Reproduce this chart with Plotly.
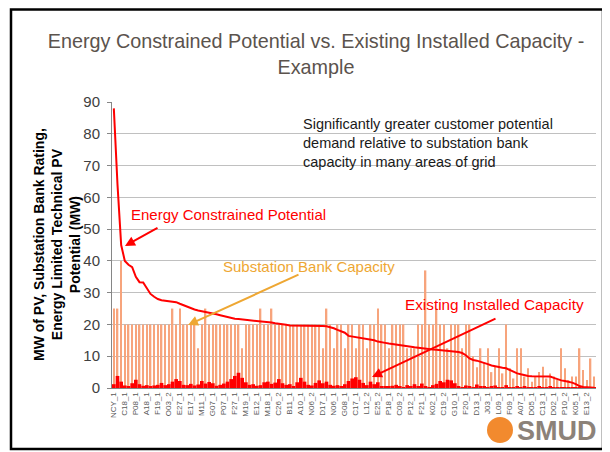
import numpy as np
import plotly.graph_objects as go

# Substations sorted by energy constrained potential (132 categories, every 3rd labelled)
tick_labels = ['NCY_1', 'C18_1', 'P08_1', 'A18_1', 'F19_1', 'O03_2', 'E27_1', 'E17_1',
               'M11_1', 'G07_1', 'P07_1', 'F27_1', 'M19_1', 'E12_1', 'M18_1', 'C26_2',
               'B11_1', 'A10_1', 'N06_2', 'D17_1', 'N06_1', 'G08_1', 'C17_1', 'L12_2',
               'E25_2', 'P18_1', 'C09_2', 'P12_1', 'F21_1', 'K02_1', 'C19_2', 'G10_1',
               'F20_1', 'D13_1', 'J03_1', 'L09_1', 'F09_1', 'A07_1', 'D05_1', 'C13_1',
               'D02_1', 'P10_2', 'K05_1', 'E13_2']

energy_potential = [
    88, 64, 45, 40, 38.8, 38, 35, 33.3, 33.2, 31.2,
    29.6, 28.7, 28, 27.6, 27.4, 27.3, 27.1, 27.0, 26.5, 26,
    25.5, 25.1, 24.7, 24.4, 24.2, 24.0, 23.8, 23.5, 23.2, 22.9,
    22.6, 22.3, 22.0, 21.8, 21.7, 21.6, 21.4, 21.3, 21.2, 21.1,
    21.0, 20.9, 20.8, 20.6, 20.4, 20.3, 20.1, 19.9, 19.7, 19.7,
    19.7, 19.7, 19.7, 19.6, 19.6, 19.6, 19.5, 19.5, 19.4, 19.2,
    18.8, 18.3, 17.9, 17.4, 16.4, 16.2, 16.0, 15.8, 15.7, 15.6,
    15.3, 15.0, 14.6, 14.3, 14.2, 14.0, 13.8, 13.7, 13.5, 13.4,
    13.2, 13.0, 12.8, 12.7, 12.5, 12.4, 12.3, 12.1, 12.0, 11.9,
    11.8, 11.6, 11.5, 11.4, 11.3, 11.0, 10.3, 9.3, 8.8, 8.6,
    8.3, 8.0, 7.5, 7.1, 6.8, 6.5, 6.4, 6.2, 5.6, 5.0,
    4.6, 4.3, 4.0, 3.8, 3.7, 3.7, 3.7, 3.6, 3.6, 3.6,
    3.2, 2.7, 2.4, 2.2, 2.0, 1.7, 1.2, 0.6, 0.3, 0.2,
    0.1, 0.1]

bank_capacity = [
    25, 25, 40, 20, 20, 20, 20, 20, 20, 20,
    20, 20, 20, 20, 20, 20, 25, 20, 25, 20,
    20, 20, 20, 12.5, 20, 25, 20, 20, 20, 20,
    20, 20, 20, 20, 20, 12.5, 20, 20, 20, 20,
    25, 20, 20, 25, 20, 20, 20, 20, 20, 20,
    20, 20, 20, 20, 20, 20, 20, 12.5, 25, 20,
    12.5, 20, 20, 12.5, 20, 20, 12.5, 20, 20, 12.5,
    20, 20, 25, 20, 20, 12.5, 20, 20, 20, 20,
    12.5, 12.5, 12.5, 20, 20, 37, 20, 20, 25, 20,
    20, 12.5, 20, 20, 20, 12.5, 20, 20, 10, 6.5,
    12.5, 8, 12.5, 5, 6.7, 12.5, 4.6, 20, 6.2, 3,
    12.5, 12.5, 3.6, 6.2, 2, 3.6, 5, 6.7, 3, 4.6,
    3.6, 2.5, 12.5, 6.2, 2.5, 3.6, 3.6, 12.5, 5.7, 2.5,
    9.3, 3.6]

installed_capacity = [
    1.2, 3.8, 2.0, 0.8, 0.6, 1.5, 2.6, 1.2, 0.7, 0.9,
    0.5, 0.8, 1.0, 1.6, 0.9, 1.2, 2.0, 2.8, 2.2, 1.0,
    0.9, 1.3, 0.8, 1.1, 2.2, 1.4, 1.9, 1.5, 0.7, 1.0,
    1.4, 2.0, 2.8, 3.8, 4.8, 3.2, 1.8, 1.0, 1.2, 0.7,
    0.9, 1.8, 2.0, 1.3, 1.7, 2.8, 1.5, 1.0, 1.2, 0.6,
    1.8, 3.2, 2.0, 1.0, 0.8, 1.6, 2.4, 1.5, 2.0, 1.0,
    0.7, 0.9, 0.6, 1.2, 2.2, 3.0, 3.4, 2.6, 1.6, 0.9,
    2.0, 1.2, 1.8, 0.6, 0.5, 0.4, 0.7, 1.0, 0.4, 0.3,
    0.9, 0.5, 1.2, 0.5, 1.4, 0.6, 0.3, 0.9, 1.3, 2.2,
    1.8, 2.6, 2.4, 1.5, 0.6, 0.3, 0.8, 0.4, 0.3, 1.1,
    0.4, 0.6, 0.3, 0.4, 0.8, 0.3, 0.2, 0.9, 0.3, 0.2,
    0.4, 0.2, 0.5, 0.2, 0.3, 0.2, 0.6, 0.2, 0.2, 0.4,
    0.2, 0.3, 0.1, 0.2, 0.1, 0.2, 0.1, 0.1, 0.2, 0.1,
    0.1, 0.1]

x = np.arange(len(energy_potential))
tick_pos = x[::3][:len(tick_labels)]

# the page body adds an 8px offset; positions below are screen pixels
# plot area on screen: left 112, right 596, top 102, bottom 388
def px(xp):
    return (xp - 112) / 484

def py(yp):
    return (388 - yp) / 286

RED = '#FF0000'
ORANGE = '#EEA733'
FONT = 'Arial, Liberation Sans, sans-serif'

fig = go.Figure()
fig.add_trace(go.Bar(x=x, y=bank_capacity, width=0.45, marker_color='#F7A47C',
                     marker_line_width=0, name='Substation Bank Capacity'))
fig.add_trace(go.Bar(x=x, y=installed_capacity, width=1.0, marker_color=RED,
                     marker_line_width=0, name='Existing Installed Capacity'))
fig.add_trace(go.Scatter(x=x, y=energy_potential, mode='lines',
                         line=dict(color=RED, width=2), name='Energy Constrained Potential'))

annotations = [
    dict(x=px(57), y=py(245), xref='paper', yref='paper', textangle=-90, showarrow=False,
         text='<b>MW of PV, Substation Bank Rating,<br>Energy Limited Technical PV<br>Potential (MW)</b>',
         font=dict(size=14, color='black', family=FONT), xanchor='center', yanchor='middle'),
    dict(x=px(301), y=py(142.5), xref='paper', yref='paper', showarrow=False, align='left',
         text='Significantly greater customer potential<br>demand relative to substation bank<br>capacity in many areas of grid',
         font=dict(size=14.5, color='#1a1a1a', family=FONT), xanchor='left', yanchor='middle'),
    dict(x=px(129), y=py(214), xref='paper', yref='paper', showarrow=False,
         text='Energy Constrained Potential', font=dict(size=15, color=RED, family=FONT),
         xanchor='left', yanchor='middle'),
    dict(x=px(221), y=py(266), xref='paper', yref='paper', showarrow=False,
         text='Substation Bank Capacity', font=dict(size=15, color=ORANGE, family=FONT),
         xanchor='left', yanchor='middle'),
    dict(x=px(403), y=py(304), xref='paper', yref='paper', showarrow=False,
         text='Existing Installed Capacity', font=dict(size=15.3, color=RED, family=FONT),
         xanchor='left', yanchor='middle'),
    # arrows
    dict(x=px(125), y=py(246), xref='paper', yref='paper', text='', showarrow=True,
         ax=159 - 125, ay=227 - 246, arrowhead=2, arrowsize=1, arrowwidth=2, arrowcolor=RED),
    dict(x=px(188), y=py(325), xref='paper', yref='paper', text='', showarrow=True,
         ax=300 - 188, ay=274 - 325, arrowhead=2, arrowsize=1, arrowwidth=2, arrowcolor=ORANGE),
    dict(x=px(372), y=py(377), xref='paper', yref='paper', text='', showarrow=True,
         ax=497 - 372, ay=318 - 377, arrowhead=2, arrowsize=1, arrowwidth=2, arrowcolor=RED),
    # logo text
    dict(x=px(557), y=py(431), xref='paper', yref='paper', showarrow=False, text='<b>SMUD</b>',
         font=dict(size=27, color='#8C8279', family=FONT), xanchor='center', yanchor='middle'),
]

shapes = [
    dict(type='rect', xref='paper', yref='paper', x0=px(11), x1=px(603), y0=py(449), y1=py(9.5),
         line=dict(color='black', width=2.5), layer='below'),
    dict(type='circle', xref='paper', yref='paper', x0=px(487), x1=px(513), y0=py(443), y1=py(417),
         fillcolor='#F28A2E', line=dict(width=0)),
]

fig.update_layout(
    width=610, height=452,
    margin=dict(l=104, r=22, t=94, b=72),
    paper_bgcolor='white', plot_bgcolor='white',
    barmode='overlay', showlegend=False,
    font=dict(family=FONT),
    title=dict(text='Energy Constrained Potential vs. Existing Installed Capacity -<br>Example',
               x=(316 - 8) / 610, xanchor='center', y=1 - (48 - 8) / 452, yanchor='middle',
               font=dict(size=19.8, color='#5B534D', family=FONT)),
    annotations=annotations, shapes=shapes,
)
fig.update_xaxes(range=[-0.5, len(x) - 0.5], tickmode='array', tickvals=tick_pos,
                 ticktext=tick_labels, tickangle=-90, tickfont=dict(size=8, color='#595959'),
                 showgrid=False, showline=True, linecolor='#868686', linewidth=1, ticks='',
                 zeroline=False)
fig.update_yaxes(range=[0, 90], dtick=10, tickfont=dict(size=15, color='#404040'),
                 showgrid=True, gridcolor='#C0C0C0', gridwidth=1, showline=True,
                 linecolor='#868686', linewidth=1, ticks='outside', ticklen=4,
                 tickcolor='#868686', zeroline=False, ticklabelstandoff=4)

fig.write_html('out.html')
